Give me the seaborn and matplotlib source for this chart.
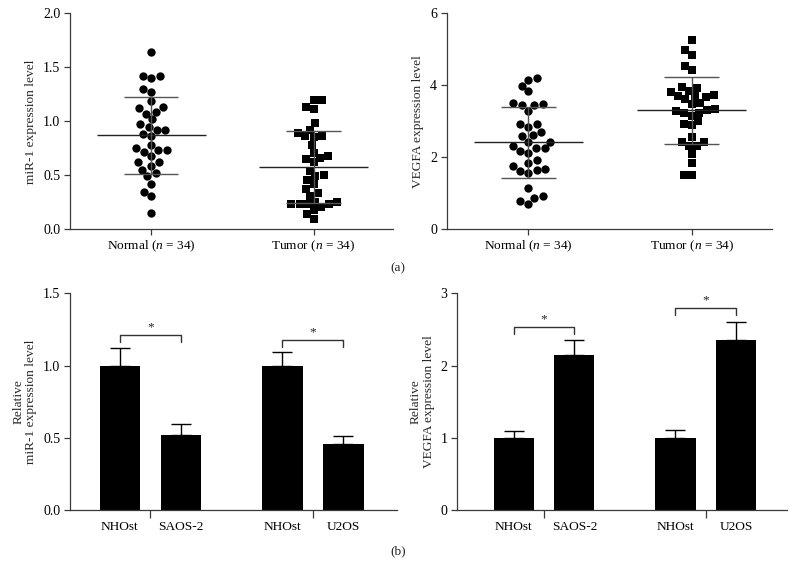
import numpy as np
import pandas as pd
import matplotlib
matplotlib.use("Agg")
import matplotlib.pyplot as plt
import seaborn as sns

# ---- data ----
groups = ["Normal", "Tumor"]
group_labels = ["Normal ($n$ = 34)", "Tumor ($n$ = 34)"]

mir1_normal = [1.645, 1.42, 1.42, 1.40, 1.30, 1.27, 1.19, 1.13, 1.12, 1.09,
               1.07, 1.02, 0.975, 0.95, 0.92, 0.92, 0.885, 0.86, 0.78, 0.75,
               0.73, 0.72, 0.73, 0.68, 0.62, 0.62, 0.59, 0.55, 0.52, 0.49,
               0.42, 0.35, 0.31, 0.155]
mir1_tumor = [1.20, 1.20, 1.13, 1.11, 0.98, 0.92, 0.89, 0.86, 0.855, 0.865,
              0.78, 0.71, 0.66, 0.65, 0.68, 0.62, 0.54, 0.50, 0.49, 0.46,
              0.42, 0.37, 0.34, 0.31, 0.25, 0.235, 0.23, 0.235, 0.235, 0.255,
              0.205, 0.18, 0.14, 0.10]
vegfa_normal = [4.21, 4.15, 3.98, 3.83, 3.47, 3.44, 3.46, 3.51, 3.29, 2.92,
                2.92, 2.85, 2.69, 2.62, 2.58, 2.43, 2.42, 2.31, 2.25, 2.25,
                2.18, 2.13, 1.92, 1.84, 1.76, 1.65, 1.68, 1.62, 1.57, 1.14,
                0.93, 0.87, 0.80, 0.70]
vegfa_tumor = [5.25, 4.97, 4.85, 4.54, 4.43, 3.85, 3.73, 3.94, 3.93, 3.82,
               3.69, 3.63, 3.67, 3.69, 3.49, 3.52, 3.30, 3.24, 3.24, 3.29,
               3.35, 3.16, 3.02, 2.90, 2.93, 2.57, 2.42, 2.30, 2.31, 2.43,
               2.10, 1.83, 1.51, 1.51]

cells = ["NHOst", "SAOS-2", "NHOst", "U2OS"]
mir1_rel = [1.0, 0.52, 1.0, 0.46]
mir1_rel_err = [0.12, 0.075, 0.096, 0.055]
vegfa_rel = [1.0, 2.14, 1.0, 2.36]
vegfa_rel_err = [0.10, 0.22, 0.11, 0.25]
mir1_sig_y = [1.21, 1.177]
vegfa_sig_y = [2.54, 2.80]

# ---- style ----
sns.set_theme(style="ticks")
plt.rcParams["font.family"] = ["Liberation Serif", "DejaVu Serif"]
plt.rcParams["mathtext.fontset"] = "custom"
plt.rcParams["mathtext.rm"] = "Liberation Serif"
plt.rcParams["mathtext.it"] = "Liberation Serif:italic"
axis_col = "#3a3a3a"
fs = 9.6
tick_fs = 10

fig = plt.figure(figsize=(7.96, 5.75), dpi=100)
ax_tl = fig.add_axes([0.0879, 0.6012, 0.406, 0.3757])
ax_tr = fig.add_axes([0.5612, 0.6012, 0.4083, 0.3757])
ax_bl = fig.add_axes([0.0879, 0.1130, 0.4104, 0.3768])
ax_br = fig.add_axes([0.5745, 0.1130, 0.4138, 0.3768])


def style_axes(ax):
    sns.despine(ax=ax)
    for s in ["left", "bottom"]:
        ax.spines[s].set_color(axis_col)
        ax.spines[s].set_linewidth(0.9)
    ax.tick_params(axis="both", colors=axis_col, labelcolor="black",
                   labelsize=fs, length=4, width=0.9, pad=3)
    ax.tick_params(axis="y", labelsize=tick_fs)


def scatter_panel(ax, normal, tumor, ylim, yticks, ylabel, fmt):
    df = pd.DataFrame({"group": ["Normal"] * len(normal) + ["Tumor"] * len(tumor),
                       "value": normal + tumor})
    sns.swarmplot(data=df[df.group == "Normal"], x="group", y="value",
                  order=groups, color="black", marker="o", size=6.0, ax=ax)
    sns.swarmplot(data=df[df.group == "Tumor"], x="group", y="value",
                  order=groups, color="black", marker="s", size=5.6, ax=ax)
    for i, g in enumerate(groups):
        v = df.loc[df.group == g, "value"]
        m, sd = v.mean(), v.std()
        ax.hlines(m, i - 0.335, i + 0.335, color="#222222", lw=1.0, zorder=3)
        ax.hlines([m - sd, m + sd], i - 0.167, i + 0.167, color="#555555", lw=1.0, zorder=3)
        ax.vlines(i, m - sd, m + sd, color="#555555", lw=1.0, zorder=3)
    ax.set_xlim(-0.5, 1.49)
    ax.set_ylim(*ylim)
    ax.set_yticks(yticks)
    ax.set_yticklabels([fmt.format(t) for t in yticks])
    ax.set_xticks(range(len(groups)))
    ax.set_xticklabels(group_labels)
    ax.set_xlabel("")
    ax.set_ylabel(ylabel, fontsize=fs)
    style_axes(ax)


def bar_panel(ax, vals, errs, sig_y, ylim, yticks, ylabel, fmt, xlim):
    pos = np.array([0, 1, 2.667, 3.667])
    sns.barplot(x=pos, y=vals, native_scale=True, color="black",
                width=0.66, errorbar=None, saturation=1,
                edgecolor="black", linewidth=0, ax=ax)
    ax.errorbar(pos, vals, yerr=[np.zeros(len(vals)), errs], fmt="none",
                ecolor="black", elinewidth=1.0, capsize=7.2, capthick=1.0)
    tick_h = 0.032 * ylim[1]
    for k in range(2):
        x0, x1 = pos[2 * k], pos[2 * k + 1]
        y = sig_y[k]
        ax.plot([x0, x0, x1, x1], [y - tick_h, y, y, y - tick_h],
                color="#333333", lw=1.0)
        ax.text((x0 + x1) / 2, y + 0.008 * ylim[1], "*", ha="center",
                va="bottom", fontsize=fs)
    ax.set_xlim(*xlim)
    ax.set_ylim(*ylim)
    ax.set_yticks(yticks)
    ax.set_yticklabels([fmt.format(t) for t in yticks])
    ax.set_xticks(pos)
    ax.set_xticklabels(cells)
    ax.set_xticks([(pos[0] + pos[1]) / 2, (pos[2] + pos[3]) / 2], minor=True)
    ax.set_xlabel("")
    ax.set_ylabel(ylabel, fontsize=fs, linespacing=1.1)
    style_axes(ax)
    ax.tick_params(axis="x", which="major", length=0, pad=8)
    ax.tick_params(axis="x", which="minor", length=6, width=0.9,
                   colors=axis_col, direction="out")


scatter_panel(ax_tl, mir1_normal, mir1_tumor, (0, 2.0),
              [0, 0.5, 1.0, 1.5, 2.0], "miR-1 expression level", "{:.1f}")
scatter_panel(ax_tr, vegfa_normal, vegfa_tumor, (0, 6),
              [0, 2, 4, 6], "VEGFA expression level", "{:.0f}")
bar_panel(ax_bl, mir1_rel, mir1_rel_err, mir1_sig_y, (0, 1.5),
          [0, 0.5, 1.0, 1.5], "Relative\nmiR-1 expression level", "{:.1f}",
          (-0.82, 4.54))
bar_panel(ax_br, vegfa_rel, vegfa_rel_err, vegfa_sig_y, (0, 3),
          [0, 1, 2, 3], "Relative\nVEGFA expression level", "{:.0f}",
          (-0.93, 4.5))

fig.text(398 / 796, 1 - 268 / 575, "(a)", ha="center", va="center", fontsize=fs)
fig.text(398 / 796, 1 - 551 / 575, "(b)", ha="center", va="center", fontsize=fs)

fig.savefig("out.png", dpi=100)
plt.close(fig)
